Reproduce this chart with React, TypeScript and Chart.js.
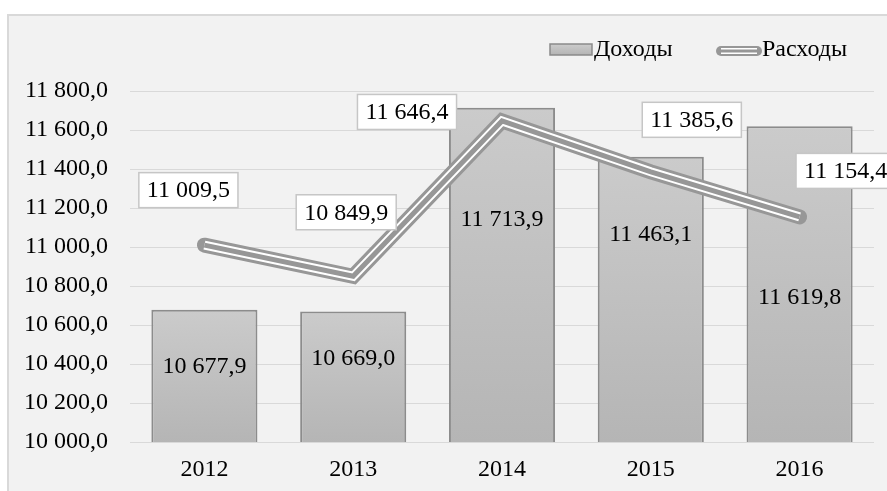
import { useEffect, useRef } from 'react';
import { Chart, registerables } from 'chart.js';

Chart.register(...registerables);

const categories = ['2012', '2013', '2014', '2015', '2016'];
const incomeValues = [10677.9, 10669.0, 11713.9, 11463.1, 11619.8];
const expenseValues = [11009.5, 10849.9, 11646.4, 11385.6, 11154.4];
const seriesNames = ['Доходы', 'Расходы'];
const yMin = 10000;
const yMax = 11800;
const yStep = 200;

// label placement, in pixels
const barLabelDy = [57, 47, 112, 78, 172]; // from bar top to label centre
const lineLabelOffsets = [
  [-16, -55],
  [-7, -64],
  [-95, -9],
  [41, -52],
  [46, -46],
];

const FONT = '"Liberation Serif", "Times New Roman", serif';
const LINE_GRAY = '#979797';

const fmt = (v: number) => {
  const [i, d] = v.toFixed(1).split('.');
  return i.replace(/\B(?=(\d{3})+(?!\d))/g, ' ') + ',' + d;
};

const backgroundPlugin = {
  id: 'bg',
  beforeDraw(chart: any) {
    const ctx = chart.ctx;
    ctx.save();
    ctx.fillStyle = '#ffffff';
    ctx.fillRect(0, 0, chart.width, chart.height);
    ctx.fillStyle = '#f2f2f2';
    ctx.fillRect(8, 15, chart.width, chart.height);
    ctx.strokeStyle = '#d9d9d9';
    ctx.lineWidth = 2;
    ctx.strokeRect(8, 15, chart.width + 20, chart.height + 20);
    ctx.restore();
  },
};

const doubleLinePlugin = {
  id: 'doubleLine',
  afterDatasetsDraw(chart: any) {
    const meta = chart.getDatasetMeta(1);
    const pts = meta.data;
    if (!pts || !pts.length) return;
    const ctx = chart.ctx;
    ctx.save();
    ctx.lineJoin = 'miter';
    ctx.lineCap = 'butt';
    const path = () => {
      ctx.beginPath();
      pts.forEach((p: any, i: number) => (i === 0 ? ctx.moveTo(p.x, p.y) : ctx.lineTo(p.x, p.y)));
    };
    path();
    ctx.strokeStyle = '#ffffff';
    ctx.lineWidth = 9;
    ctx.stroke();
    path();
    ctx.strokeStyle = LINE_GRAY;
    ctx.lineWidth = 5;
    ctx.stroke();
    ctx.restore();
  },
};

const labelsPlugin = {
  id: 'valueLabels',
  afterDraw(chart: any) {
    const ctx = chart.ctx;
    ctx.save();
    ctx.font = `24px ${FONT}`;
    ctx.textAlign = 'center';
    ctx.textBaseline = 'middle';
    const barMeta = chart.getDatasetMeta(0);
    barMeta.data.forEach((bar: any, i: number) => {
      ctx.fillStyle = '#000';
      ctx.fillText(fmt(incomeValues[i]), bar.x, bar.y + barLabelDy[i]);
    });
    const lineMeta = chart.getDatasetMeta(1);
    lineMeta.data.forEach((pt: any, i: number) => {
      const text = fmt(expenseValues[i]);
      const cx = pt.x + lineLabelOffsets[i][0];
      const cy = pt.y + lineLabelOffsets[i][1];
      const w = ctx.measureText(text).width + 16;
      const h = 35;
      ctx.fillStyle = '#ffffff';
      ctx.fillRect(cx - w / 2, cy - h / 2, w, h);
      ctx.strokeStyle = '#c6c6c6';
      ctx.lineWidth = 1.5;
      ctx.strokeRect(cx - w / 2, cy - h / 2, w, h);
      ctx.fillStyle = '#000';
      ctx.fillText(text, cx, cy + 1);
    });
    ctx.restore();
  },
};

const legendPlugin = {
  id: 'customLegend',
  afterDraw(chart: any) {
    const ctx = chart.ctx;
    ctx.save();
    // Доходы
    const g = ctx.createLinearGradient(0, 44, 0, 55);
    g.addColorStop(0, '#cccccc');
    g.addColorStop(1, '#b4b4b4');
    ctx.fillStyle = g;
    ctx.fillRect(550, 44, 42, 11);
    ctx.strokeStyle = '#8a8a8a';
    ctx.lineWidth = 1.5;
    ctx.strokeRect(550, 44, 42, 11);
    ctx.font = `24px ${FONT}`;
    ctx.textBaseline = 'middle';
    ctx.textAlign = 'left';
    ctx.fillStyle = '#000';
    ctx.fillText(seriesNames[0], 594, 50);
    // Расходы
    const seg = () => {
      ctx.beginPath();
      ctx.moveTo(721, 51);
      ctx.lineTo(757, 51);
    };
    ctx.lineCap = 'round';
    seg();
    ctx.strokeStyle = LINE_GRAY;
    ctx.lineWidth = 10;
    ctx.stroke();
    ctx.lineCap = 'butt';
    seg();
    ctx.strokeStyle = '#ffffff';
    ctx.lineWidth = 6;
    ctx.stroke();
    seg();
    ctx.strokeStyle = LINE_GRAY;
    ctx.lineWidth = 3;
    ctx.stroke();
    ctx.fillStyle = '#000';
    ctx.fillText(seriesNames[1], 762, 50);
    ctx.restore();
  },
};

export default function App() {
  const ref = useRef<HTMLCanvasElement>(null);

  useEffect(() => {
    document.body.style.margin = '0';
    const canvas = ref.current;
    if (!canvas) return;
    const chart = new Chart(canvas, {
      data: {
        labels: categories,
        datasets: [
          {
            type: 'bar',
            label: seriesNames[0],
            data: incomeValues,
            order: 1,
            backgroundColor: (c: any) => {
              const ch = c.chart;
              const area = ch.chartArea;
              const ys = ch.scales && ch.scales.y;
              if (!area || !ys || c.raw == null) return '#c0c0c0';
              const top = ys.getPixelForValue(c.raw);
              const gr = ch.ctx.createLinearGradient(0, top, 0, area.bottom);
              gr.addColorStop(0, '#cbcbcb');
              gr.addColorStop(1, '#b5b5b5');
              return gr;
            },
            borderColor: '#8c8c8c',
            borderWidth: 2,
            borderSkipped: false,
            barPercentage: 0.713,
            categoryPercentage: 1,
          } as any,
          {
            type: 'line',
            label: seriesNames[1],
            data: expenseValues,
            order: 0,
            borderColor: LINE_GRAY,
            borderWidth: 15,
            borderCapStyle: 'round',
            borderJoinStyle: 'miter',
            tension: 0,
            pointRadius: 0,
            pointHoverRadius: 0,
            fill: false,
          } as any,
        ],
      },
      options: {
        responsive: false,
        animation: false,
        devicePixelRatio: 1,
        layout: { padding: { top: 91, left: 0, right: 13, bottom: 9 } },
        plugins: {
          legend: { display: false },
          tooltip: { enabled: false },
          title: { display: false },
        },
        scales: {
          x: {
            type: 'category',
            grid: { display: false, drawTicks: false },
            border: { display: false },
            ticks: {
              color: '#000',
              font: { family: FONT, size: 24 },
              padding: 13,
            },
            afterFit: (s: any) => {
              s.height = 40;
            },
          },
          y: {
            type: 'linear',
            min: yMin,
            max: yMax,
            grid: { color: '#d9d9d9', lineWidth: 1, drawTicks: false },
            border: { display: false },
            ticks: {
              stepSize: yStep,
              color: '#000',
              font: { family: FONT, size: 24 },
              padding: 22,
              callback: (v: any) => fmt(Number(v)),
            },
            afterFit: (s: any) => {
              s.width = 130;
            },
          },
        },
      } as any,
      plugins: [backgroundPlugin, doubleLinePlugin, labelsPlugin, legendPlugin],
    } as any);
    return () => chart.destroy();
  }, []);

  return (
    <div style={{ width: 887, height: 491 }}>
      <canvas ref={ref} width={887} height={491} style={{ display: 'block' }} />
    </div>
  );
}
